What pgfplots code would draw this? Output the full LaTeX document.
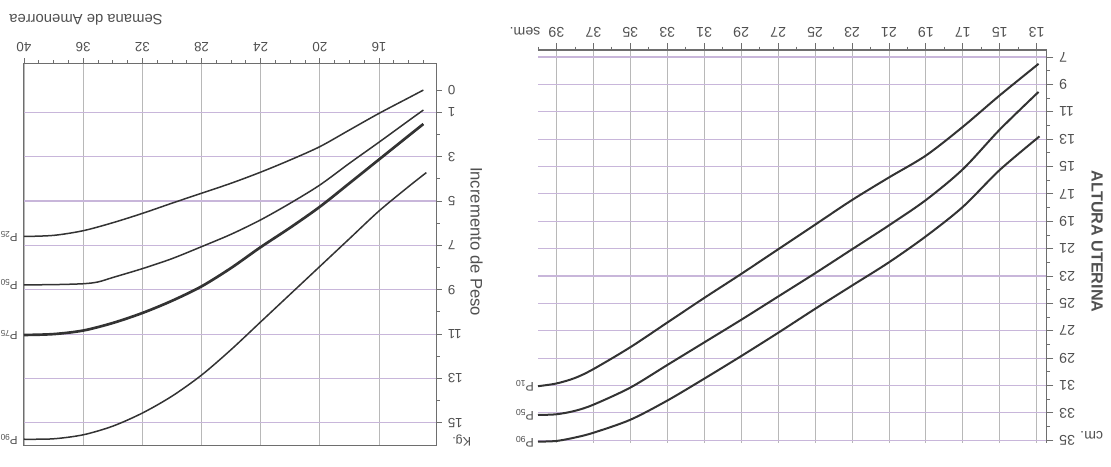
\documentclass[border=0pt]{standalone}
\usepackage{fontspec}
\setmainfont{Liberation Sans}
\usepackage{pgfplots}
\pgfplotsset{compat=1.18}
\definecolor{txt}{HTML}{505050}
\definecolor{curve}{HTML}{333333}
\definecolor{hgrid}{HTML}{C8B6DA}
\definecolor{vgrid}{HTML}{B8B8B8}
\definecolor{framec}{HTML}{6E6E6E}
\begin{document}
\begin{tikzpicture}
\path[use as bounding box] (0,0) rectangle (666.6pt,279.6pt);
% ---------------- left panel: weight gain ----------------
\begin{axis}[
  at={(138.3pt,127.2pt)}, anchor=center,
  scale only axis, width=247.8pt, height=229.2pt,
  x dir=reverse, y dir=reverse,
  xmin=12.08, xmax=40, ymin=-1.22, ymax=16,
  xtick={16,20,...,40}, minor xtick={13,14,15,17,18,19,21,22,23,25,26,27,29,30,31,33,34,35,37,38,39},
  ytick={1,3,...,15}, minor ytick={2,4,...,14},
  extra y ticks={0}, extra y tick style={grid=none},
  xtick pos=upper, ytick pos=upper, xticklabel pos=upper, yticklabel pos=upper,
  tick align=outside,
  major tick length=3pt, minor tick length=1.8pt,
  tick style={framec, line width=0.5pt},
  xmajorgrids, ymajorgrids,
  x grid style={vgrid, line width=0.5pt},
  y grid style={hgrid, line width=0.7pt},
  axis line style={framec, line width=0.6pt},
  /pgf/number format/assume math mode=true,
  xticklabel style={rotate=180, anchor=north, font=\fontsize{8}{9}\selectfont, text=txt},
  yticklabel style={rotate=180, anchor=east, font=\fontsize{8}{9}\selectfont, text=txt},
  clip=false,
]
\addplot[curve, line width=0.9pt, smooth] coordinates {
 (13,0.0) (14,0.35) (16,1.05) (18,1.8) (20,2.55) (22,3.15) (24,3.7) (26,4.2) (28,4.65) (30,5.1) (32,5.56) (34,5.98) (36,6.34) (38,6.55) (40,6.6)};
\addplot[curve, line width=0.9pt, smooth] coordinates {
 (13,0.9) (14,1.38) (16,2.35) (18,3.3) (20,4.28) (22,5.1) (24,5.85) (26,6.5) (28,7.06) (30,7.6) (32,8.05) (34,8.45) (35,8.65) (36,8.73) (38,8.77) (40,8.78)};
\addplot[curve, line width=1.6pt, smooth] coordinates {
 (13,1.53) (14,2.06) (16,3.13) (18,4.2) (20,5.26) (22,6.2) (24,7.08) (26,8.02) (28,8.85) (30,9.5) (32,10.05) (34,10.5) (36,10.84) (38,11.0) (40,11.04)};
\addplot[curve, line width=0.9pt, smooth] coordinates {
 (12.8,3.72) (14,4.35) (16,5.45) (18,6.7) (20,7.95) (22,9.2) (24,10.45) (26,11.7) (28,12.85) (30,13.8) (32,14.56) (34,15.15) (36,15.54) (38,15.72) (40,15.74)};
\node[rotate=180, anchor=west, inner sep=0pt, font=\fontsize{7}{8}\selectfont, text=txt] at (axis cs:40.4,6.6) {P\textsubscript{25}};
\node[rotate=180, anchor=west, inner sep=0pt, font=\fontsize{7}{8}\selectfont, text=txt] at (axis cs:40.4,8.78) {P\textsubscript{50}};
\node[rotate=180, anchor=west, inner sep=0pt, font=\fontsize{7}{8}\selectfont, text=txt] at (axis cs:40.4,11.04) {P\textsubscript{75}};
\node[rotate=180, anchor=west, inner sep=0pt, font=\fontsize{7}{8}\selectfont, text=txt] at (axis cs:40.4,15.74) {P\textsubscript{90}};
\end{axis}
% ---------------- right panel: uterine height ----------------
\begin{axis}[
  at={(475.41pt,131.7pt)}, anchor=center,
  scale only axis, width=305.22pt, height=235.8pt,
  x dir=reverse, y dir=reverse,
  xmin=12.46, xmax=40, ymin=6.49, ymax=35.2,
  xtick={13,15,...,39}, minor xtick={14,16,...,40},
  ytick={7,9,...,35}, minor ytick={8,10,...,34},
  xtick pos=upper, ytick pos=upper, xticklabel pos=upper, yticklabel pos=upper,
  tick align=outside,
  major tick length=4pt, minor tick length=2pt,
  tick style={framec, line width=0.5pt},
  xmajorgrids, ymajorgrids,
  x grid style={vgrid, line width=0.5pt},
  y grid style={hgrid, line width=0.7pt},
  axis line style={draw=none},
  /pgf/number format/assume math mode=true,
  xticklabel style={rotate=180, anchor=north, font=\fontsize{8.5}{10}\selectfont, text=txt},
  yticklabel style={rotate=180, anchor=east, font=\fontsize{8.5}{10}\selectfont, text=txt},
  clip=false,
]
\draw[framec, line width=0.7pt] (axis cs:40,6.49) -- (axis cs:12.46,6.49) -- (axis cs:12.46,35.2);
\addplot[curve, line width=1.2pt, smooth] coordinates {
 (12.9,7.5) (15,9.8) (17,12.1) (19,14.2) (21,15.8) (23,17.45) (25,19.25) (27,21.05) (29,22.85) (31,24.6) (33,26.4) (35,28.2) (37,29.8) (38,30.45) (39,30.85) (40,31.05)};
\addplot[curve, line width=1.2pt, smooth] coordinates {
 (12.9,9.55) (15,12.3) (17,15.2) (19,17.45) (21,19.3) (23,21.05) (25,22.8) (27,24.5) (29,26.2) (31,27.85) (33,29.5) (35,31.15) (37,32.4) (38,32.85) (39,33.1) (40,33.15)};
\addplot[curve, line width=1.2pt, smooth] coordinates {
 (12.85,12.8) (15,15.25) (17,17.95) (19,20.1) (21,22.0) (23,23.7) (25,25.4) (27,27.15) (29,28.85) (31,30.5) (33,32.1) (35,33.5) (37,34.45) (38,34.8) (39,35.05) (40,35.1)};
\node[rotate=180, anchor=west, inner sep=0pt, font=\fontsize{7.5}{9}\selectfont, text=txt] at (axis cs:40.2,31.05) {P\textsubscript{10}};
\node[rotate=180, anchor=west, inner sep=0pt, font=\fontsize{7.5}{9}\selectfont, text=txt] at (axis cs:40.2,33.15) {P\textsubscript{50}};
\node[rotate=180, anchor=west, inner sep=0pt, font=\fontsize{7.5}{9}\selectfont, text=txt] at (axis cs:40.2,35.1) {P\textsubscript{90}};
\end{axis}
% ---------------- titles ----------------
\node[rotate=180, text=txt, font=\fontsize{8.9}{10}\selectfont] at (51.6pt,267.6pt) {Semana de Amenorrea};
\node[rotate=-90, text=txt, font=\fontsize{10}{12}\selectfont] at (286pt,134.6pt) {Incremento de Peso};
\node[rotate=180, text=txt, font=\fontsize{7.5}{9}\selectfont] at (277pt,15.6pt) {Kg.};
\node[rotate=-90, text=txt, font=\bfseries\fontsize{9.7}{11}\selectfont] at (658.2pt,134.6pt) {ALTURA UTERINA};
\node[rotate=180, text=txt, font=\fontsize{8.5}{10}\selectfont] at (315pt,260.6pt) {sem.};
\node[rotate=180, text=txt, font=\fontsize{8.5}{10}\selectfont] at (655pt,18.2pt) {cm.};
\end{tikzpicture}
\end{document}
